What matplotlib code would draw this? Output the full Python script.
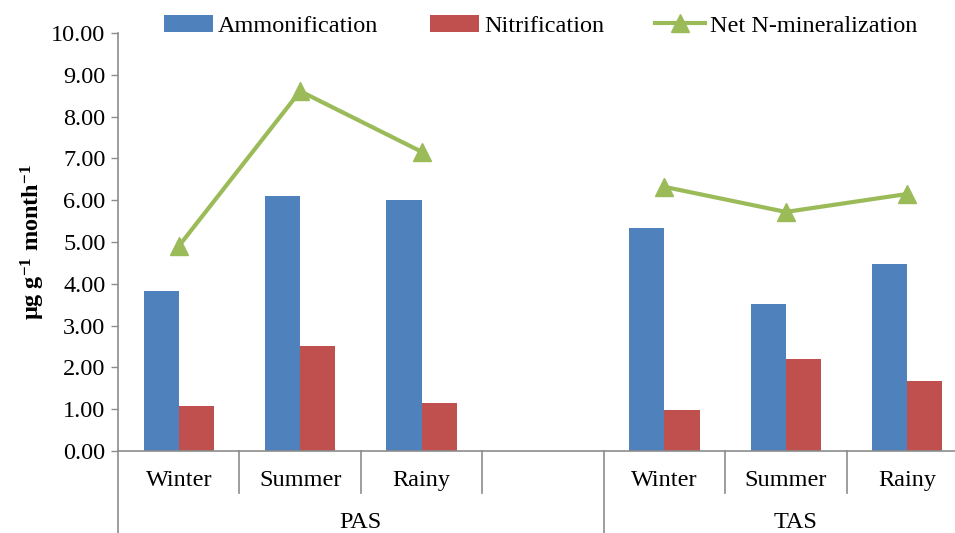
import numpy as np
import matplotlib
matplotlib.use('Agg')
import matplotlib.pyplot as plt
from matplotlib.transforms import blended_transform_factory

# Seasonal N transformation rates for the two sites (empty slot separates them)
SEASONS = ['Winter', 'Summer', 'Rainy', '', 'Winter', 'Summer', 'Rainy']
SITES = ['PAS', 'TAS']
AMMONIFICATION = [3.83, 6.09, 6.01, np.nan, 5.34, 3.52, 4.47]
NITRIFICATION = [1.07, 2.52, 1.15, np.nan, 0.98, 2.20, 1.68]
NET_MINERALIZATION = [4.90, 8.61, 7.16, np.nan, 6.32, 5.72, 6.15]

BLUE = '#4F81BD'
RED = '#C0504D'
GREEN = '#9BBB59'
GRID_GRAY = '#8C8C8C'

plt.rcParams.update({
    'font.family': 'Liberation Serif',
    'font.size': 17.5,
    'mathtext.fontset': 'custom',
    'mathtext.rm': 'Liberation Serif',
    'mathtext.bf': 'Liberation Serif:bold',
    'mathtext.default': 'bf',
})

fig = plt.figure(figsize=(9.55, 5.33), dpi=100)
ax = fig.add_axes([0.1236, 0.1538, 0.89, 0.7842])

x = np.arange(len(SEASONS))
w = 0.29
b1 = ax.bar(x - w / 2, AMMONIFICATION, w, color=BLUE, label='Ammonification')
b2 = ax.bar(x + w / 2, NITRIFICATION, w, color=RED, label='Nitrification')
ln, = ax.plot(x, NET_MINERALIZATION, color=GREEN, lw=3, marker='^', ms=13,
              label='Net N-mineralization')

ax.set_xlim(-0.5, len(SEASONS) - 0.5)
ax.set_ylim(0, 10)
ax.set_yticks(np.arange(0, 10.01, 1))
ax.set_yticklabels([f'{v:.2f}' for v in np.arange(0, 10.01, 1)])
ax.tick_params(axis='y', length=5, width=1, color=GRID_GRAY, pad=4)
ax.set_xticks([])

for side in ('top', 'right'):
    ax.spines[side].set_visible(False)
for side in ('left', 'bottom'):
    ax.spines[side].set_color(GRID_GRAY)
    ax.spines[side].set_linewidth(1.2)

# two-level category axis: season labels, then site labels
trans = blended_transform_factory(ax.transData, ax.transAxes)
for i, name in enumerate(SEASONS):
    if name:
        ax.text(i, -0.07, name, transform=trans, ha='center', va='center')
for b in np.arange(-0.5, len(SEASONS), 1.0):
    low = -0.196 if b in (-0.5, 3.5) else -0.1006
    ax.plot([b, b], [0, low], transform=trans, color=GRID_GRAY, lw=1.2,
            clip_on=False)
ax.text(1.5, -0.172, SITES[0], transform=trans, ha='center', va='center')
ax.text(5.08, -0.172, SITES[1], transform=trans, ha='center', va='center')

ax.set_ylabel('μg g$^{-1}$ month$^{-1}$', fontweight='bold')
ax.yaxis.set_label_coords(-0.083, 0.5)

fig.legend(handles=[b1, b2, ln], loc='center', bbox_to_anchor=(0.566, 0.952),
           ncol=3, frameon=False, handlelength=2.05, handletextpad=0.2,
           columnspacing=2.1, borderaxespad=0)

fig.savefig('out.png', dpi=100)
plt.close(fig)
